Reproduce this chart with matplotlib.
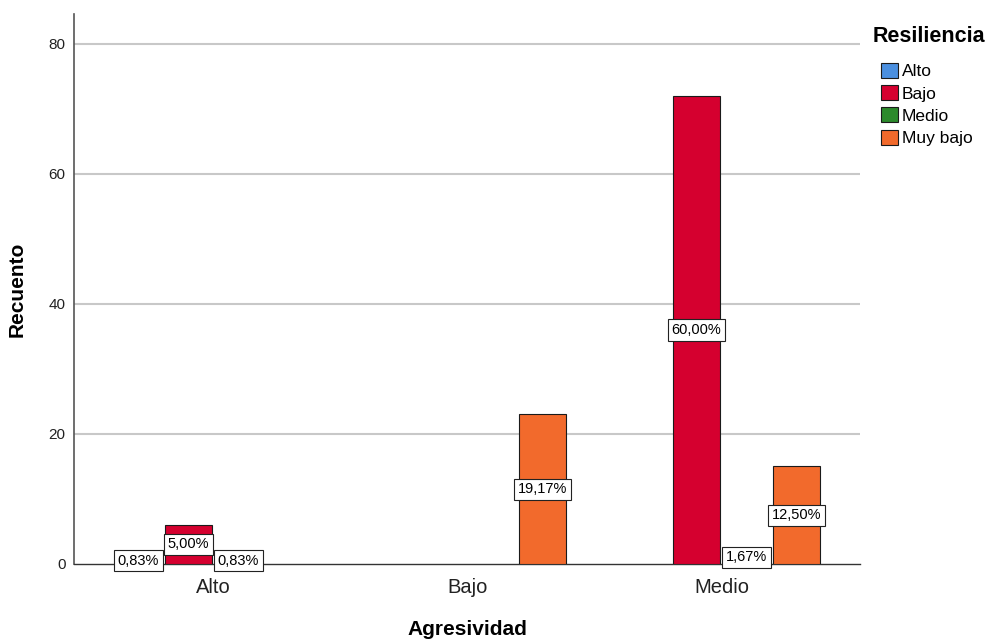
import numpy as np
import matplotlib
matplotlib.use("Agg")
import matplotlib.pyplot as plt
from matplotlib.patches import Patch

plt.rcParams["font.family"] = ["Liberation Sans", "DejaVu Sans"]

# Datos (recuento, total 120)
agresividad = ["Alto", "Bajo", "Medio"]
resiliencia = ["Alto", "Bajo", "Medio", "Muy bajo"]
recuento = {
    "Alto":     [1, 0, 0],
    "Bajo":     [6, 0, 72],
    "Medio":    [1, 0, 2],
    "Muy bajo": [0, 23, 15],
}
colores = ["#4a8fdf", "#d5002f", "#2b8a2b", "#f26a2c"]
total = 120

fig = plt.figure(figsize=(9.89, 6.43), dpi=100)
ax = fig.add_axes([0.0748, 0.1229, 0.7948, 0.8553])

x = np.arange(len(agresividad))
paso = 0.197
ancho = 0.183

for i, res in enumerate(resiliencia):
    vals = np.array(recuento[res])
    pos = x + (i - 1.5) * paso
    mask = vals > 0
    ax.bar(pos[mask], vals[mask], width=ancho, color=colores[i],
           edgecolor="#1a1a1a", linewidth=0.8, zorder=3)
    for p, v in zip(pos[mask], vals[mask]):
        txt = f"{v / total * 100:.2f}%".replace(".", ",")
        ax.text(p, v / 2, txt, ha="center", va="center", fontsize=10.5,
                zorder=5,
                bbox=dict(boxstyle="square,pad=0.25", facecolor="white",
                          edgecolor="#222222", linewidth=0.8))

ax.set_xlim(-0.549, 2.545)
ax.set_ylim(0, 84.6)
ax.set_yticks([0, 20, 40, 60, 80])
ax.set_xticks(x)
ax.set_xticklabels(agresividad, fontsize=14.5, color="#222222")
ax.tick_params(axis="x", length=0, pad=10)
ax.tick_params(axis="y", length=0, pad=6, labelsize=11, labelcolor="#222222")

for yv in [20, 40, 60, 80]:
    ax.axhline(yv, color="#c8c8c8", linewidth=1.5, zorder=1)

for s in ["top", "right"]:
    ax.spines[s].set_visible(False)
ax.spines["left"].set_color("#555555")
ax.spines["bottom"].set_color("#333333")
ax.spines["left"].set_linewidth(1.2)
ax.spines["bottom"].set_linewidth(1.0)

ax.set_xlabel("Agresividad", fontsize=15, fontweight="bold", labelpad=17)
ax.set_ylabel("Recuento", fontsize=15, fontweight="bold", labelpad=16)

handles = [Patch(facecolor=c, edgecolor="#1a1a1a", linewidth=0.8)
           for c in colores]
fig.legend(handles, resiliencia, loc="upper left",
           bbox_to_anchor=(881 / 989, 1 - 63 / 643), frameon=False,
           fontsize=12.5, handlelength=1.0, handleheight=0.95,
           handletextpad=0.2, labelspacing=0.33, borderpad=0,
           borderaxespad=0)
fig.text(873 / 989, 1 - 37 / 643, "Resiliencia", fontsize=15.5,
         fontweight="bold", ha="left", va="center")

fig.savefig("out.png", dpi=100)
